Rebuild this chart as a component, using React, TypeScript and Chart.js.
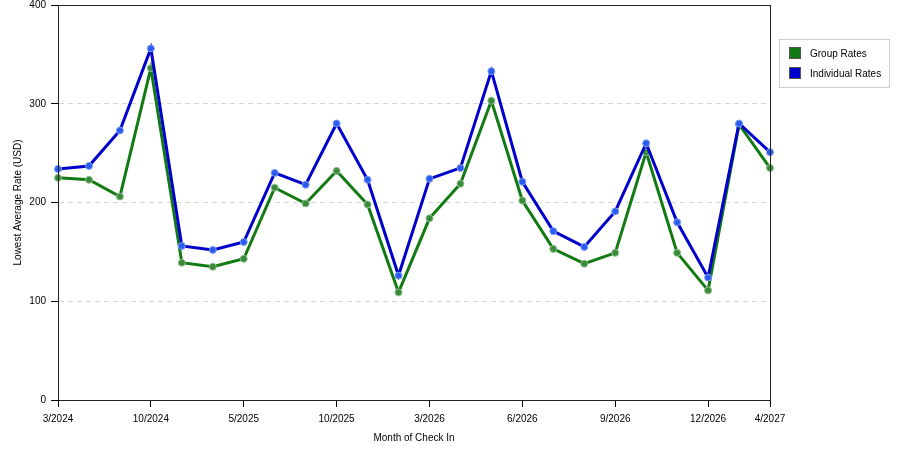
import { useEffect, useRef } from 'react';
import { Chart, registerables } from 'chart.js';

Chart.register(...registerables);

// Month of check in (only some of them get a label on the axis)
const months = [
  '3/2024', '4/2024', '6/2024', '10/2024', '11/2024', '2/2025', '5/2025', '6/2025',
  '8/2025', '10/2025', '11/2025', '1/2026', '3/2026', '4/2026', '5/2026', '6/2026',
  '7/2026', '8/2026', '9/2026', '10/2026', '11/2026', '12/2026', '1/2027', '4/2027',
];
const shownMonths = ['3/2024', '10/2024', '5/2025', '10/2025', '3/2026', '6/2026', '9/2026', '12/2026', '4/2027'];

const groupRates = [225, 223, 206, 336, 139, 135, 143, 215, 199, 232, 198, 109, 184, 219, 303, 202, 153, 138, 149, 251, 149, 111, 279, 235];
const individualRates = [234, 237, 273, 356, 156, 152, 160, 230, 218, 280, 223, 126, 224, 235, 333, 221, 171, 155, 191, 260, 180, 124, 280, 251];

const FONT = 'Liberation Sans, Arial, sans-serif';

// box around the plot area
const framePlugin = {
  id: 'frame',
  afterDraw(chart: Chart) {
    const { ctx, chartArea } = chart;
    ctx.save();
    ctx.strokeStyle = '#222';
    ctx.lineWidth = 1;
    ctx.strokeRect(
      Math.round(chartArea.left) + 0.5,
      Math.round(chartArea.top) + 0.5,
      Math.round(chartArea.right - chartArea.left),
      Math.round(chartArea.bottom - chartArea.top)
    );
    ctx.restore();
  },
};

// boxed legend at the right
const boxLegendPlugin = {
  id: 'boxLegend',
  afterDraw(chart: Chart) {
    const { ctx } = chart;
    const x = 779;
    const y = 39;
    ctx.save();
    ctx.strokeStyle = '#ccc';
    ctx.lineWidth = 1;
    ctx.strokeRect(x + 0.5, y + 0.5, 110, 48);
    ctx.font = '10px ' + FONT;
    ctx.textBaseline = 'middle';
    const items = [chart.data.datasets[1], chart.data.datasets[0]];
    items.forEach((ds: any, i: number) => {
      const sy = y + 8 + i * 20;
      ctx.fillStyle = ds.borderColor;
      ctx.fillRect(x + 10, sy, 12, 12);
      ctx.strokeStyle = '#555';
      ctx.strokeRect(x + 10.5, sy + 0.5, 11, 11);
      ctx.fillStyle = '#000';
      ctx.fillText(ds.label, x + 31, sy + 7);
    });
    ctx.restore();
  },
};

export default function App() {
  const chartRef = useRef<HTMLCanvasElement>(null);
  const chartInstance = useRef<Chart | null>(null);

  useEffect(() => {
    if (!chartRef.current) return;
    const ctx = chartRef.current.getContext('2d');
    if (!ctx) return;
    if (chartInstance.current) chartInstance.current.destroy();

    chartInstance.current = new Chart(ctx, {
      type: 'line',
      data: {
        labels: months,
        datasets: [
          {
            label: 'Individual Rates',
            data: individualRates,
            borderColor: '#0000cc',
            backgroundColor: '#0000cc',
            borderWidth: 3,
            pointRadius: 3.5,
            pointBackgroundColor: '#2a5cf0',
            pointBorderColor: '#7f9cf5',
            pointBorderWidth: 1,
            tension: 0,
            order: 0,
          },
          {
            label: 'Group Rates',
            data: groupRates,
            borderColor: '#127a12',
            backgroundColor: '#127a12',
            borderWidth: 3,
            pointRadius: 3.5,
            pointBackgroundColor: '#3b8a3b',
            pointBorderColor: '#8cc08c',
            pointBorderWidth: 1,
            tension: 0,
            order: 1,
          },
        ],
      },
      options: {
        responsive: false,
        animation: false,
        layout: { padding: { top: 5, right: 130, left: 0, bottom: 0 } },
        plugins: {
          legend: { display: false },
          tooltip: { enabled: false },
        },
        scales: {
          x: {
            offset: false,
            afterFit: (scale: any) => {
              scale.height = 50;
              scale.paddingLeft = 0;
              scale.paddingRight = 0;
            },
            grid: {
              drawOnChartArea: false,
              tickLength: 7,
              tickColor: (c: any) => (shownMonths.includes(months[c.index]) ? '#000' : 'rgba(0,0,0,0)'),
            },
            border: { color: '#000', width: 1 },
            ticks: {
              autoSkip: false,
              maxRotation: 0,
              padding: 6,
              color: '#000',
              font: { family: FONT, size: 10 },
              callback: (_v: any, i: number) => (shownMonths.includes(months[i]) ? months[i] : ''),
            },
            title: {
              display: true,
              text: 'Month of Check In',
              color: '#000',
              font: { family: FONT, size: 10 },
              padding: { top: 0, bottom: 6 },
            },
          },
          y: {
            min: 0,
            max: 400,
            afterFit: (scale: any) => {
              scale.width = 58;
              scale.paddingTop = 0;
              scale.paddingBottom = 0;
            },
            grid: {
              color: (c: any) => (c.tick && (c.tick.value === 0 || c.tick.value === 400) ? 'rgba(0,0,0,0)' : '#d6d6d6'),
              tickColor: '#000',
              tickLength: 7,
              tickBorderDash: [],
            },
            border: { color: '#000', width: 1, dash: [5, 4] },
            ticks: {
              stepSize: 100,
              padding: 5,
              color: '#000',
              font: { family: FONT, size: 10 },
            },
            title: {
              display: true,
              text: 'Lowest Average Rate (USD)',
              color: '#000',
              font: { family: FONT, size: 10 },
              padding: { top: 12, bottom: 0 },
            },
          },
        },
      },
      plugins: [framePlugin, boxLegendPlugin],
    });

    return () => {
      if (chartInstance.current) {
        chartInstance.current.destroy();
        chartInstance.current = null;
      }
    };
  }, []);

  return (
    <div style={{ position: 'absolute', left: 0, top: 0, width: 900, height: 450, background: '#fff' }}>
      <canvas ref={chartRef} width={900} height={450}></canvas>
    </div>
  );
}
